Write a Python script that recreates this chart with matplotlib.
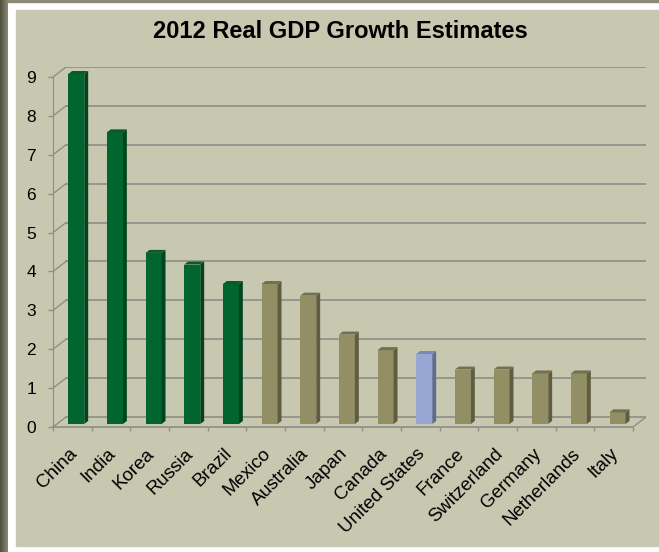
#!/usr/bin/env python3
# 2012 Real GDP Growth Estimates -- Excel style pseudo-3D column chart

import numpy as np
import matplotlib.pyplot as plt
from matplotlib.patches import Rectangle, Polygon
from matplotlib.colors import LinearSegmentedColormap

plt.rcParams.update({
    "font.family": ["Liberation Sans", "DejaVu Sans"],
    "font.size": 12,
})

# ============================================================
# DATA
# ============================================================

countries = ["China", "India", "Korea", "Russia", "Brazil", "Mexico",
             "Australia", "Japan", "Canada", "United States", "France",
             "Switzerland", "Germany", "Netherlands", "Italy"]
growth = [9.0, 7.5, 4.4, 4.1, 3.6, 3.6, 3.3, 2.3, 1.9, 1.8, 1.4, 1.4,
          1.3, 1.3, 0.3]
group = ["em", "em", "em", "em", "em", "dev", "dev", "dev", "dev", "us",
         "dev", "dev", "dev", "dev", "dev"]

y_ticks = [0, 1, 2, 3, 4, 5, 6, 7, 8, 9]

# front / side / top colours for each group
COLORS = {
    "em":  ("#00652F", "#00451F", "#0A5A2C"),
    "dev": ("#918F63", "#5E5D40", "#727050"),
    "us":  ("#97A6D3", "#5E6C95", "#7988B4"),
}

BG = "#C8C8B1"
GRID = "#8E8E88"

# 3D offsets (data units)
DX = 0.337     # depth shift in x
DY = 0.257     # depth shift in y
F = 0.30       # front face depth fraction
BD = 0.30      # bar depth fraction
W = 0.415      # bar width

# ============================================================
# FIGURE / BACKGROUND
# ============================================================

fig = plt.figure(figsize=(6.59, 5.52), dpi=100)
fig.patch.set_facecolor("white")

# chart area + top strip
fig.patches.append(Rectangle((0, 1 - 2 / 552), 1, 2 / 552, transform=fig.transFigure,
                             color="#8A8A74", zorder=-10))
fig.patches.append(Rectangle((16 / 659, 6 / 552), 1 - 16 / 659, 536 / 552,
                             transform=fig.transFigure, color=BG, zorder=-10))

# dark left strip with gradient
strip = fig.add_axes([0, 0, 8 / 659, 1])
grad = np.linspace(0, 1, 50).reshape(1, -1)
strip.imshow(grad, aspect="auto",
             cmap=LinearSegmentedColormap.from_list("s", ["#4E4E3E", "#8A8A72"]),
             extent=[0, 1, 0, 1])
strip.axis("off")

ax = fig.add_axes([53 / 659, 1 - 427 / 552, 593 / 659, 360 / 552])
ax.set_facecolor("none")

n = len(countries)
x = np.arange(n)
ax.set_xlim(-0.5, n - 0.5 + DX)
ax.set_ylim(0, 9 + DY)

# back wall gridlines + side wall diagonals
for v in y_ticks:
    ax.plot([-0.5 + DX, n - 0.5 + DX], [v + DY, v + DY], color=GRID, lw=1.2, zorder=1)
    ax.plot([-0.5, -0.5 + DX], [v, v + DY], color=GRID, lw=1.0, zorder=1)

# floor
ax.plot([-0.5, n - 0.5], [0, 0], color=GRID, lw=1.2, zorder=1, clip_on=False)
ax.plot([n - 0.5, n - 0.5 + DX], [0, DY], color=GRID, lw=1.0, zorder=1)

# bars
for i, (v, g) in enumerate(zip(growth, group)):
    front, side, top = COLORS[g]
    x0 = x[i] - W / 2 + F * DX
    x1 = x0 + W
    y0 = F * DY
    ax.add_patch(Rectangle((x0, y0), W, v, facecolor=front, edgecolor="none", zorder=3))
    ax.add_patch(Polygon([(x1, y0), (x1 + BD * DX, y0 + BD * DY),
                          (x1 + BD * DX, y0 + BD * DY + v), (x1, y0 + v)],
                         closed=True, facecolor=side, edgecolor="none", zorder=3))
    ax.add_patch(Polygon([(x0, y0 + v), (x1, y0 + v),
                          (x1 + BD * DX, y0 + v + BD * DY), (x0 + BD * DX, y0 + v + BD * DY)],
                         closed=True, facecolor=top, edgecolor="none", zorder=3))

# axes styling
for s in ["top", "right", "bottom"]:
    ax.spines[s].set_visible(False)
ax.spines["left"].set_color(GRID)
ax.spines["left"].set_bounds(0, 9)

ax.set_yticks(y_ticks)
ax.tick_params(axis="y", length=3.6, width=1, color=GRID, pad=8.5, labelsize=12.5)

ax.set_xticks(np.arange(-0.5, n, 1.0))
ax.set_xticklabels([])
ax.tick_params(axis="x", length=3, width=1, color=GRID)

for i, name in enumerate(countries):
    ax.text(x[i] + 0.06, -0.62, name, rotation=45, ha="right", va="center",
            rotation_mode="anchor", fontsize=13.5, clip_on=False)

fig.text(0.516, 1 - 31 / 552, "2012 Real GDP Growth Estimates",
         ha="center", va="center", fontsize=17, fontweight="bold")

fig.savefig("out.png", dpi=100, facecolor=fig.get_facecolor())
